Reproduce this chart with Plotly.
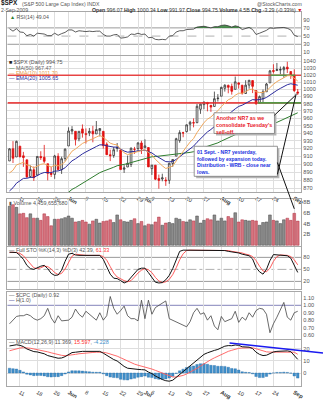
import plotly.graph_objects as go
import numpy as np

W, H = 326, 400

# ---------------- data (trading days 6-May-2009 .. 2-Sep-2009) ----------------
dates = ["05-06","05-07","05-08","05-11","05-12","05-13","05-14","05-15","05-18","05-19",
         "05-20","05-21","05-22","05-26","05-27","05-28","05-29","06-01","06-02","06-03",
         "06-04","06-05","06-08","06-09","06-10","06-11","06-12","06-15","06-16","06-17",
         "06-18","06-19","06-22","06-23","06-24","06-25","06-26","06-29","06-30","07-01",
         "07-02","07-06","07-07","07-08","07-09","07-10","07-13","07-14","07-15","07-16",
         "07-17","07-20","07-21","07-22","07-23","07-24","07-27","07-28","07-29","07-30",
         "07-31","08-03","08-04","08-05","08-06","08-07","08-10","08-11","08-12","08-13",
         "08-14","08-17","08-18","08-19","08-20","08-21","08-24","08-25","08-26","08-27",
         "08-28","08-31","09-01","09-02"]

opens = [903.95, 919.58, 909.03, 922.99, 910.52, 905.40, 884.24, 892.76, 886.07, 909.67,
         908.62, 900.42, 888.68, 887.00, 909.95, 892.96, 907.02, 923.26, 942.87, 942.51,
         932.49, 945.67, 938.12, 940.35, 942.73, 939.04, 943.44, 942.45, 925.60, 911.89,
         910.86, 919.96, 918.13, 893.46, 896.31, 899.45, 918.84, 919.86, 927.15, 920.82,
         921.24, 894.27, 898.60, 881.90, 881.28, 880.03, 879.57, 900.77, 910.15, 930.17,
         940.56, 942.07, 951.97, 953.40, 954.07, 972.16, 978.63, 981.48, 977.66, 976.01,
         986.80, 990.22, 1001.41, 1005.41, 1004.06, 999.83, 1008.89, 1005.77, 994.00, 1005.86,
         1012.23, 998.18, 980.62, 986.88, 996.41, 1009.06, 1026.59, 1026.63, 1027.35, 1027.81,
         1031.62, 1025.21, 1019.52, 996.07]
highs = [920.28, 929.58, 930.17, 922.99, 915.57, 905.40, 898.36, 896.97, 910.00, 916.39,
         924.60, 900.42, 896.65, 911.76, 913.84, 909.45, 920.02, 947.77, 949.38, 942.51,
         942.47, 951.69, 946.33, 946.92, 949.77, 956.23, 946.30, 942.45, 928.00, 918.44,
         921.93, 927.09, 918.13, 898.69, 910.85, 921.42, 922.00, 927.99, 930.01, 931.92,
         921.24, 898.72, 898.60, 886.80, 887.86, 883.57, 901.05, 905.84, 933.95, 943.96,
         941.89, 951.62, 956.53, 959.83, 979.42, 979.79, 982.49, 982.35, 977.76, 996.68,
         993.18, 1003.61, 1007.12, 1006.64, 1008.00, 1018.00, 1010.12, 1005.77, 1012.78, 1013.14,
         1012.60, 998.18, 991.20, 999.61, 1008.92, 1027.59, 1035.82, 1037.75, 1032.47, 1033.33,
         1039.47, 1025.21, 1028.45, 1000.34]
lows = [903.95, 901.36, 909.03, 908.68, 896.46, 882.80, 882.52, 878.94, 886.07, 905.22,
        901.37, 879.61, 883.75, 881.46, 891.87, 887.60, 903.56, 923.26, 938.46, 923.85,
        929.32, 934.13, 926.44, 936.15, 927.97, 939.04, 935.66, 919.65, 911.60, 903.78,
        907.94, 915.80, 893.04, 888.86, 896.31, 896.27, 913.03, 916.18, 912.86, 920.82,
        896.42, 886.36, 879.93, 869.32, 878.45, 872.81, 875.32, 896.50, 910.15, 927.45,
        934.65, 940.99, 943.22, 947.75, 953.27, 965.95, 972.29, 969.35, 968.65, 976.01,
        982.85, 990.22, 996.68, 994.31, 992.49, 999.83, 1000.99, 992.40, 993.36, 1000.82,
        994.60, 978.51, 980.62, 980.62, 996.39, 1009.06, 1022.48, 1026.21, 1021.57, 1016.20,
        1023.13, 1014.62, 996.28, 991.97]
closes = [919.53, 907.39, 929.23, 909.24, 908.35, 883.92, 893.07, 882.88, 909.71, 908.13,
          903.47, 888.33, 887.00, 910.33, 893.06, 906.83, 919.14, 942.87, 944.74, 931.76,
          942.46, 940.09, 939.14, 942.43, 939.15, 944.89, 946.21, 923.72, 911.97, 910.71,
          918.37, 921.23, 893.04, 895.10, 900.94, 920.26, 918.90, 927.23, 919.32, 923.33,
          896.42, 898.72, 881.03, 879.56, 882.68, 879.13, 901.05, 905.84, 932.68, 940.74,
          940.38, 951.13, 954.58, 954.07, 976.29, 979.26, 982.18, 979.62, 975.15, 986.75,
          987.48, 1002.63, 1005.65, 1002.72, 997.08, 1010.48, 1007.10, 994.35, 1005.81, 1012.73,
          1004.09, 979.73, 989.67, 996.46, 1007.37, 1026.13, 1025.57, 1028.00, 1028.12, 1030.98,
          1028.93, 1020.62, 998.04, 994.75]
close_before_first = 903.80

volume_b = [7.2, 7.5, 7.0, 5.8, 5.9, 5.1, 5.8, 5.0, 5.0, 4.6,
            5.8, 5.3, 3.6, 4.8, 4.8, 4.9, 5.1, 5.4, 5.0, 4.3,
            4.4, 4.6, 4.3, 3.9, 4.5, 4.8, 4.1, 4.4, 4.5, 4.7,
            4.2, 5.6, 4.7, 4.4, 4.3, 4.6, 4.9, 4.0, 4.4, 3.6,
            3.9, 3.8, 4.3, 5.2, 3.7, 4.1, 4.2, 4.0, 5.0, 4.8,
            4.4, 4.3, 4.7, 4.5, 5.4, 4.1, 4.6, 4.9, 4.7, 5.6,
            4.5, 5.0, 4.5, 5.3, 5.0, 6.0, 4.3, 4.7, 4.6, 4.5,
            4.6, 4.5, 3.7, 4.2, 4.3, 5.6, 4.6, 4.5, 4.0, 4.7,
            5.0, 4.6, 5.9, 4.46]

ema10 = [888.8, 892.2, 898.9, 900.8, 902.2, 898.9, 897.8, 895.1, 897.8, 899.7,
         900.4, 898.2, 896.2, 898.7, 897.7, 899.4, 903.0, 910.2, 916.5, 919.3,
         923.5, 926.5, 928.8, 931.3, 932.7, 934.9, 937.0, 934.6, 930.5, 926.9,
         925.3, 924.6, 918.9, 914.5, 912.1, 913.6, 914.5, 916.8, 917.3, 918.4,
         914.4, 911.6, 906.0, 901.2, 897.8, 894.4, 895.6, 897.5, 903.9, 910.6,
         916.0, 922.4, 928.3, 932.9, 940.8, 947.8, 954.1, 958.7, 961.7, 966.3,
         970.1, 976.0, 981.4, 985.3, 987.4, 991.6, 994.4, 994.4, 996.5, 999.4,
         1000.3, 996.5, 995.3, 995.5, 997.7, 1002.8, 1007.0, 1010.8, 1013.9, 1017.0,
         1019.2, 1019.4, 1015.5, 1011.7]
ema20 = [866.6, 870.5, 876.1, 879.3, 882.0, 882.2, 883.3, 883.3, 885.8, 887.9,
         889.4, 889.3, 889.1, 891.1, 891.3, 892.8, 895.3, 899.8, 904.1, 906.7,
         910.1, 913.0, 915.5, 918.1, 920.1, 922.5, 924.7, 924.6, 923.4, 922.2,
         921.8, 921.7, 919.0, 916.7, 915.2, 915.7, 916.0, 917.1, 917.3, 917.9,
         915.8, 914.2, 911.0, 908.0, 905.6, 903.1, 902.9, 903.2, 906.0, 909.3,
         912.3, 916.0, 919.7, 923.0, 928.1, 933.0, 937.7, 941.7, 944.9, 948.9,
         952.6, 957.4, 962.0, 965.9, 968.9, 972.8, 976.1, 977.8, 980.5, 983.6,
         985.5, 985.0, 985.4, 986.5, 988.5, 992.1, 995.3, 998.4, 1001.2, 1004.0,
         1006.4, 1007.8, 1006.9, 1005.7]
ma50 = [None] * 8 + [
         836.5, 841.1, 844.8, 848.1, 850.9, 853.9, 856.7, 859.3, 861.8, 865.0,
         868.5, 870.7, 873.4, 875.9, 878.0, 880.6, 883.6, 886.5, 889.2, 891.0,
         892.4, 893.9, 896.0, 897.9, 898.6, 899.4, 900.5, 901.9, 903.0, 904.1,
         905.9, 907.3, 908.4, 909.3, 909.6, 910.1, 910.6, 910.7, 911.3, 911.9,
         912.4, 913.1, 913.5, 914.4, 914.9, 915.8, 917.2, 919.1, 920.8, 922.8,
         924.1, 925.7, 927.3, 929.6, 932.0, 933.9, 935.9, 938.0, 939.8, 940.8,
         942.0, 943.6, 944.9, 945.7, 946.7, 947.8, 949.1, 950.7, 952.3, 954.4,
         956.7, 959.1, 961.4, 963.3, 965.4, 967.4]

rsi14 = [68, 62, 68, 60, 59, 51, 54, 50, 57, 56,
         55, 51, 51, 57, 52, 56, 59, 65, 65, 60,
         63, 62, 61, 62, 61, 62, 62, 54, 50, 50,
         53, 54, 45, 46, 48, 55, 54, 57, 54, 55,
         46, 47, 42, 41, 42, 41, 50, 51, 60, 63,
         63, 66, 67, 67, 72, 73, 74, 72, 70, 73,
         73, 76, 77, 75, 72, 75, 73, 66, 69, 71,
         66, 54, 57, 60, 64, 70, 69, 70, 70, 71,
         69, 65, 52, 49]

sto_k = [93, 92, 92, 85, 75, 60, 52, 50, 55, 58,
         60, 52, 40, 35, 36, 48, 70, 88, 90, 86,
         85, 85, 85, 85, 85, 85, 85, 75, 58, 38,
         28, 27, 22, 16, 20, 30, 42, 50, 53, 53,
         42, 30, 18, 16, 17, 24, 35, 52, 75, 95,
         98, 98, 98, 98, 98, 98, 98, 97, 97, 97,
         98, 98, 97, 95, 94, 93, 91, 88, 86, 84,
         76, 55, 44, 38, 50, 72, 87, 86, 86, 85,
         84, 78, 60, 42.39]
sto_d = [92, 93, 92, 90, 84, 73, 62, 54, 52, 54,
         58, 57, 51, 42, 37, 40, 51, 69, 83, 88,
         87, 85, 85, 85, 85, 85, 85, 82, 73, 57,
         41, 31, 26, 22, 19, 22, 31, 41, 48, 52,
         49, 42, 30, 21, 17, 19, 25, 37, 54, 74,
         89, 97, 98, 98, 98, 98, 98, 98, 97, 97,
         97, 98, 98, 97, 95, 94, 93, 91, 88, 86,
         82, 72, 58, 46, 44, 53, 70, 82, 86, 86,
         85, 82, 74, 61.33]

cpc = [0.75, 0.80, 0.85, 0.86, 0.86, 0.88, 0.86, 0.82, 0.80, 0.82,
       0.86, 0.96, 0.83, 0.76, 0.86, 0.79, 0.80, 0.80, 0.84, 0.95,
       0.88, 0.84, 0.92, 0.88, 0.83, 0.80, 0.90, 0.80, 0.86, 1.12,
       0.96, 0.88, 0.93, 0.99, 0.86, 0.82, 0.82, 0.79, 1.07, 0.82,
       1.07, 0.88, 0.97, 1.00, 1.03, 1.06, 0.82, 0.80, 0.78, 0.76,
       0.74, 0.71, 0.78, 0.90, 0.96, 0.88, 0.90, 0.80, 0.86, 0.72,
       0.67, 0.85, 0.78, 0.80, 0.82, 0.92, 0.77, 0.84, 0.80, 0.90,
       0.84, 0.93, 0.96, 0.95, 0.88, 0.63, 0.75, 0.84, 0.95, 1.04,
       0.84, 0.80, 0.90, 0.92]

macd_line = [22.5, 23.0, 23.5, 23.0, 22.0, 20.0, 19.0, 17.8, 17.5, 17.0,
             16.0, 14.5, 13.5, 13.0, 12.3, 12.5, 13.6, 15.5, 17.0, 17.3,
             17.8, 18.0, 18.0, 18.0, 17.8, 17.9, 18.0, 16.5, 14.5, 12.5,
             11.2, 10.0, 7.5, 5.5, 4.0, 3.5, 3.0, 3.0, 2.8, 2.6,
             0.8, -0.5, -2.5, -4.2, -5.4, -6.4, -6.8, -6.0, -3.6, -1.0,
             1.2, 3.8, 6.0, 8.0, 11.0, 13.5, 15.5, 16.8, 17.5, 18.8,
             19.6, 21.0, 22.3, 22.8, 22.7, 23.3, 23.0, 21.8, 21.6, 21.5,
             20.3, 17.3, 15.5, 14.5, 14.8, 16.5, 17.5, 18.0, 18.2, 18.5,
             18.4, 17.8, 14.8, 11.369]
macd_signal = [18.5, 19.4, 20.2, 20.8, 21.1, 21.0, 20.6, 20.0, 19.5, 19.0,
               18.4, 17.6, 16.8, 16.0, 15.3, 14.7, 14.4, 14.6, 15.1, 15.5,
               16.0, 16.4, 16.7, 17.0, 17.1, 17.3, 17.4, 17.2, 16.7, 15.9,
               15.0, 14.0, 12.7, 11.2, 9.8, 8.5, 7.4, 6.5, 5.8, 5.1,
               4.3, 3.3, 2.2, 1.0, -0.3, -1.5, -2.6, -3.3, -3.3, -2.8,
               -2.0, -0.8, 0.6, 2.1, 3.9, 5.8, 7.7, 9.5, 11.1, 12.6,
               14.0, 15.4, 16.8, 18.0, 18.9, 19.8, 20.5, 20.8, 21.0, 21.1,
               21.0, 20.2, 19.3, 18.3, 17.6, 17.4, 17.4, 17.5, 17.7, 17.8,
               17.9, 17.9, 17.3, 15.597]
macd_hist = [4.0, 3.6, 3.3, 2.2, 0.9, -1.0, -1.6, -2.2, -2.0, -2.0,
             -2.4, -3.1, -3.3, -3.0, -3.0, -2.2, -0.8, 0.9, 1.9, 1.8,
             1.8, 1.6, 1.3, 1.0, 0.7, 0.6, 0.6, -0.7, -2.2, -3.4,
             -3.8, -4.0, -5.2, -5.7, -5.8, -5.0, -4.4, -3.5, -3.0, -2.5,
             -3.5, -3.8, -4.7, -5.2, -5.1, -4.9, -4.2, -2.7, -0.3, 1.8,
             3.2, 4.6, 5.4, 5.9, 7.1, 7.7, 7.8, 7.3, 6.4, 6.2,
             5.6, 5.6, 5.5, 4.8, 3.8, 3.5, 2.5, 1.0, 0.6, 0.4,
             -0.7, -2.9, -3.8, -3.8, -2.8, -0.9, 0.1, 0.5, 0.5, 0.7,
             0.5, -0.1, -2.5, -4.228]

tick_idx = [3, 8, 13, 17, 22, 27, 32, 37, 39, 41, 46, 51, 56, 61, 66, 71, 76, 82]
tick_text = ["11", "18", "26", "<b>Jun</b>", "8", "15", "22", "29", "<b>Jul</b>", "6",
             "13", "20", "27", "<b>Aug</b>", "10", "17", "24", "<b>Sep</b>"]
price_ticks = [870, 880, 890, 900, 910, 920, 930, 940, 950, 960, 970, 980, 990,
               1000, 1010, 1020, 1030, 1040]
support_levels = [1020, 981]
support_green = [(1020, 75.2, 82.3), (981, 71.5, 84.0)]

# ---------------- helpers ----------------
FONT = "Liberation Sans"
GRID = "#dedede"
BORDER = "#a8a8a8"
TICKC = "#555555"


def fy(p):
    return 1 - p / H


def fx(p):
    return p / W


X_DOM = [fx(7.5), fx(304)]
XR = [-0.6, 84.0]

x = list(range(len(closes)))
prev_close = [close_before_first] + closes[:-1]
red_i = [i for i in x if closes[i] < prev_close[i]]
blk_i = [i for i in x if closes[i] >= prev_close[i]]


def pick(arr, idx):
    return [arr[i] for i in idx]


fig = go.Figure()

# ---- main price panel (x / y) ----
for lvl in support_levels:
    fig.add_trace(go.Scatter(x=[XR[0], XR[1]], y=[lvl, lvl], mode="lines",
                             line=dict(color="rgba(232,40,40,0.85)", width=1.6),
                             xaxis="x", yaxis="y", hoverinfo="skip", showlegend=False))
for lvl, a, b in support_green:
    fig.add_trace(go.Scatter(x=[a, b], y=[lvl, lvl], mode="lines",
                             line=dict(color="rgba(70,160,70,0.9)", width=1.6),
                             xaxis="x", yaxis="y", hoverinfo="skip", showlegend=False))

fig.add_trace(go.Scatter(x=x, y=ma50, mode="lines", line=dict(color="#2f7d2f", width=1),
                         xaxis="x", yaxis="y", showlegend=False))
fig.add_trace(go.Scatter(x=x, y=ema20, mode="lines", line=dict(color="#2b2b9c", width=1),
                         xaxis="x", yaxis="y", showlegend=False))
fig.add_trace(go.Scatter(x=x, y=ema10, mode="lines", line=dict(color="#f0a95e", width=1),
                         xaxis="x", yaxis="y", showlegend=False))

fig.add_trace(go.Candlestick(
    x=blk_i, open=pick(opens, blk_i), high=pick(highs, blk_i), low=pick(lows, blk_i),
    close=pick(closes, blk_i), xaxis="x", yaxis="y", whiskerwidth=0,
    increasing=dict(line=dict(color="#333333", width=0.8), fillcolor="white"),
    decreasing=dict(line=dict(color="#333333", width=0.8), fillcolor="#333333"),
    showlegend=False))
fig.add_trace(go.Candlestick(
    x=red_i, open=pick(opens, red_i), high=pick(highs, red_i), low=pick(lows, red_i),
    close=pick(closes, red_i), xaxis="x", yaxis="y", whiskerwidth=0,
    increasing=dict(line=dict(color="#e01010", width=0.8), fillcolor="white"),
    decreasing=dict(line=dict(color="#e01010", width=0.8), fillcolor="#e01010"),
    showlegend=False))

# ---- RSI panel (x2 / y2) ----
fig.add_trace(go.Scatter(x=x, y=[70] * len(x), mode="lines", line=dict(width=0, color="rgba(0,0,0,0)"),
                         xaxis="x2", yaxis="y2", hoverinfo="skip", showlegend=False))
fig.add_trace(go.Scatter(x=x, y=list(np.maximum(np.array(rsi14, float), 70)), mode="lines",
                         line=dict(width=0, color="rgba(0,0,0,0)"), fill="tonexty",
                         fillcolor="rgba(46,125,50,0.85)", xaxis="x2", yaxis="y2",
                         hoverinfo="skip", showlegend=False))
fig.add_trace(go.Scatter(x=x, y=rsi14, mode="lines", line=dict(color="#333333", width=0.8),
                         xaxis="x2", yaxis="y2", showlegend=False))

# ---- Volume panel (x3 / y3) ----
vcol = ["rgba(200,62,78,0.72)" if i in red_i else "rgba(95,95,95,0.72)" for i in x]
vline = ["#b03040" if i in red_i else "#444444" for i in x]
fig.add_trace(go.Bar(x=x, y=volume_b, marker=dict(color=vcol, line=dict(color=vline, width=0.5)),
                     width=0.78, xaxis="x3", yaxis="y3", showlegend=False))

# ---- Full STO panel (x4 / y4) ----
fig.add_trace(go.Scatter(x=x, y=sto_d, mode="lines", line=dict(color="#ff4a4a", width=0.9),
                         xaxis="x4", yaxis="y4", showlegend=False))
fig.add_trace(go.Scatter(x=x, y=sto_k, mode="lines", line=dict(color="#111111", width=1),
                         xaxis="x4", yaxis="y4", showlegend=False))

# ---- CPC panel (x5 / y5) ----
fig.add_trace(go.Scatter(x=x, y=cpc, mode="lines", line=dict(color="#444444", width=0.8),
                         xaxis="x5", yaxis="y5", showlegend=False))

# ---- MACD panel (x6 / y6) ----
fig.add_trace(go.Bar(x=x, y=macd_hist, marker=dict(color="#3f8fca", line=dict(color="#2a6fa8", width=0.4)),
                     width=0.72, xaxis="x6", yaxis="y6", showlegend=False))
fig.add_trace(go.Scatter(x=x, y=macd_signal, mode="lines", line=dict(color="#ff5a5a", width=0.9),
                         xaxis="x6", yaxis="y6", showlegend=False))
fig.add_trace(go.Scatter(x=x, y=macd_line, mode="lines", line=dict(color="#111111", width=1),
                         xaxis="x6", yaxis="y6", showlegend=False))


# ---------------- axes ----------------
def xax(anchor, labels):
    return dict(domain=X_DOM, range=XR, anchor=anchor, tickmode="array", tickvals=tick_idx,
                ticktext=tick_text, showticklabels=labels, showgrid=True, gridcolor=GRID,
                gridwidth=1, zeroline=False, showline=True, mirror=True, linecolor=BORDER,
                linewidth=1, ticks="", tickfont=dict(size=5.6, color="#333", family=FONT),
                fixedrange=True, rangeslider=dict(visible=False))


def yax(anchor, dom, rng, vals, texts, grid=True, typ="linear"):
    return dict(domain=dom, range=rng, anchor=anchor, side="right", type=typ,
                tickmode="array", tickvals=vals, ticktext=texts, showgrid=grid,
                gridcolor=GRID, gridwidth=1, zeroline=False, showline=True, mirror=True,
                linecolor=BORDER, linewidth=1, ticks="",
                tickfont=dict(size=5.6, color=TICKC, family=FONT), fixedrange=True)


layout = dict(
    width=W, height=H, autosize=False, margin=dict(l=0, r=0, t=0, b=0),
    paper_bgcolor="white", plot_bgcolor="white", showlegend=False, bargap=0.2,
    xaxis=xax("y", True), xaxis2=xax("y2", False), xaxis3=xax("y3", False),
    xaxis4=xax("y4", False), xaxis5=xax("y5", False), xaxis6=xax("y6", True),
    yaxis=yax("x", [fy(195), fy(57)], [np.log10(865.2), np.log10(1047.7)], price_ticks,
              [str(v) for v in price_ticks], True, "log"),
    yaxis2=yax("x2", [fy(56), fy(12)], [3.5, 109.2], [10, 30, 50, 70, 90],
               ["10", "30", "50", "70", "90"], False),
    yaxis3=yax("x3", [fy(250), fy(202)], [-0.18, 8.55], [2, 4, 6, 8], ["2B", "4B", "6B", "8B"], False),
    yaxis4=yax("x4", [fy(293), fy(251)], [2.0, 105.3], [20, 50, 80], ["20", "50", "80"], False),
    yaxis5=yax("x5", [fy(344), fy(296)], [0.547, 1.187], [0.6, 0.7, 0.8, 0.9, 1.0, 1.1],
               ["0.60", "0.70", "0.80", "0.90", "1.00", "1.10"], False),
    yaxis6=yax("x6", [fy(392), fy(345)], [-10.9, 27.6], [0, 10, 20], ["0", "10", "20"], True),
)
fig.update_layout(**layout)

# ---------------- reference lines ----------------
shapes = []


def hline(xref, yref, yv, color, dash="solid", width=1):
    shapes.append(dict(type="line", xref=xref + " domain", yref=yref, x0=0, x1=1, y0=yv, y1=yv,
                       line=dict(color=color, width=width, dash=dash), layer="below"))


hline("x2", "y2", 70, "#9a9a9a")
hline("x2", "y2", 30, "#9a9a9a")
hline("x2", "y2", 50, "#b0b0b0", "dash")
hline("x4", "y4", 80, "#9a9a9a")
hline("x4", "y4", 20, "#9a9a9a")
hline("x4", "y4", 50, "#b0b0b0", "dashdot")
hline("x5", "y5", 1.0, "#9c9cc8", "solid", 1.2)


def pline(x0, y0, x1, y1, color="#111111", width=1):
    shapes.append(dict(type="line", xref="paper", yref="paper", x0=fx(x0), y0=fy(y0),
                       x1=fx(x1), y1=fy(y1), line=dict(color=color, width=width), layer="above"))


def prect(x0, y0, x1, y1, fill, line_color=None, width=0):
    shapes.append(dict(type="rect", xref="paper", yref="paper", x0=fx(x0), y0=fy(y1),
                       x1=fx(x1), y1=fy(y0), fillcolor=fill,
                       line=dict(color=line_color or fill, width=width), layer="above"))


# callout boxes (shadow + box)
prect(218, 116.5, 279, 137.5, "#b4b4b4")
prect(216, 114.5, 277, 135.5, "white", "#7a7a7a", 0.8)
prect(198, 150.5, 282, 181, "#b4b4b4")
prect(196, 148.5, 280, 179, "white", "#7a7a7a", 0.8)
# pointer lines
pline(277, 117, 298, 97)
pline(280, 177, 299, 95)
pline(280, 165, 297, 212)
# MACD trend line
pline(231.7, 348.3, 326, 358.3, "#1a1af0", 1.5)

fig.update_layout(shapes=shapes)


# ---------------- texts ----------------
def txt(px, py, s, size=5.6, color="#444444", anchor="left", family=FONT, yanchor="middle"):
    fig.add_annotation(x=fx(px), y=fy(py), xref="paper", yref="paper", text=s, showarrow=False,
                       xanchor=anchor, yanchor=yanchor, align="left",
                       font=dict(size=size, color=color, family=family), borderpad=0)


txt(0.5, 3.2, "<b>$SPX</b>", 6.4, "#222222")
txt(21.0, 3.6, "(S&P 500 Large Cap Index) INDX", 5.2, "#555555")
txt(305.5, 3.6, "@StockCharts.com", 5.2, "#555555", "right")
txt(0.5, 10.2, "2-Sep-2009", 5.2, "#555555")
txt(305.5, 10.2, "<b>Open</b> 996.07 <b>High</b> 1000.34 <b>Low</b> 991.97 <b>Close</b> 994.75 "
    "<b>Volume</b> 4.5B <b>Chg</b> -3.29 (-0.33%) <span style='color:#e01010'>▼</span>",
    5.2, "#333333", "right")

txt(9, 17.0, "<span style='color:#2e7d32'>▲</span> RSI(14) 49.04", 5.2, "#555555")

txt(8, 63.3, "<span style='color:#222'>■</span> $SPX (Daily) 994.75", 5.4, "#555555")
txt(8, 68.6, "<span style='color:#2f7d2f'>—</span> MA(50) 967.47", 5.4, "#666666")
txt(8, 74.0, "— EMA(10) 1011.70", 5.4, "#e89a48")
txt(8, 79.3, "— EMA(20) 1005.65", 5.4, "#2b2b9c")

txt(8, 205.6, "<span style='color:#555'>▮</span> Volume 4,459,655,680", 5.4, "#555555")
txt(8, 253.6, "— Full STO %K(14,3) %D(3) 42.39, <span style='color:#ff3030'>61.33</span>", 5.4, "#555555")
txt(8, 299.7, "— $CPC (Daily) 0.92", 5.4, "#555555")
txt(8, 304.8, "<span style='color:#22228a'>—</span> H(1.0)", 5.4, "#555555")
txt(8, 347.0, "— MACD(12,26,9) 11.369, <span style='color:#ff3030'>15.597</span>, "
    "<span style='color:#3f8fca'>-4.228</span>", 5.4, "#555555")

txt(217.5, 115.5, "<b>Another NR7 as we<br>consolidate Tuesday's<br>sell-off.</b>", 5.3,
    "#e8202a", "left", FONT, "top")
txt(197.5, 150.0, "<b>01 Sept. - NR7 yesterday,<br>followed by expansion today.<br>"
    "Distribution - WRB - close near<br>lows.</b>", 5.0, "#2030e0", "left", FONT, "top")

fig.write_html("out.html")
